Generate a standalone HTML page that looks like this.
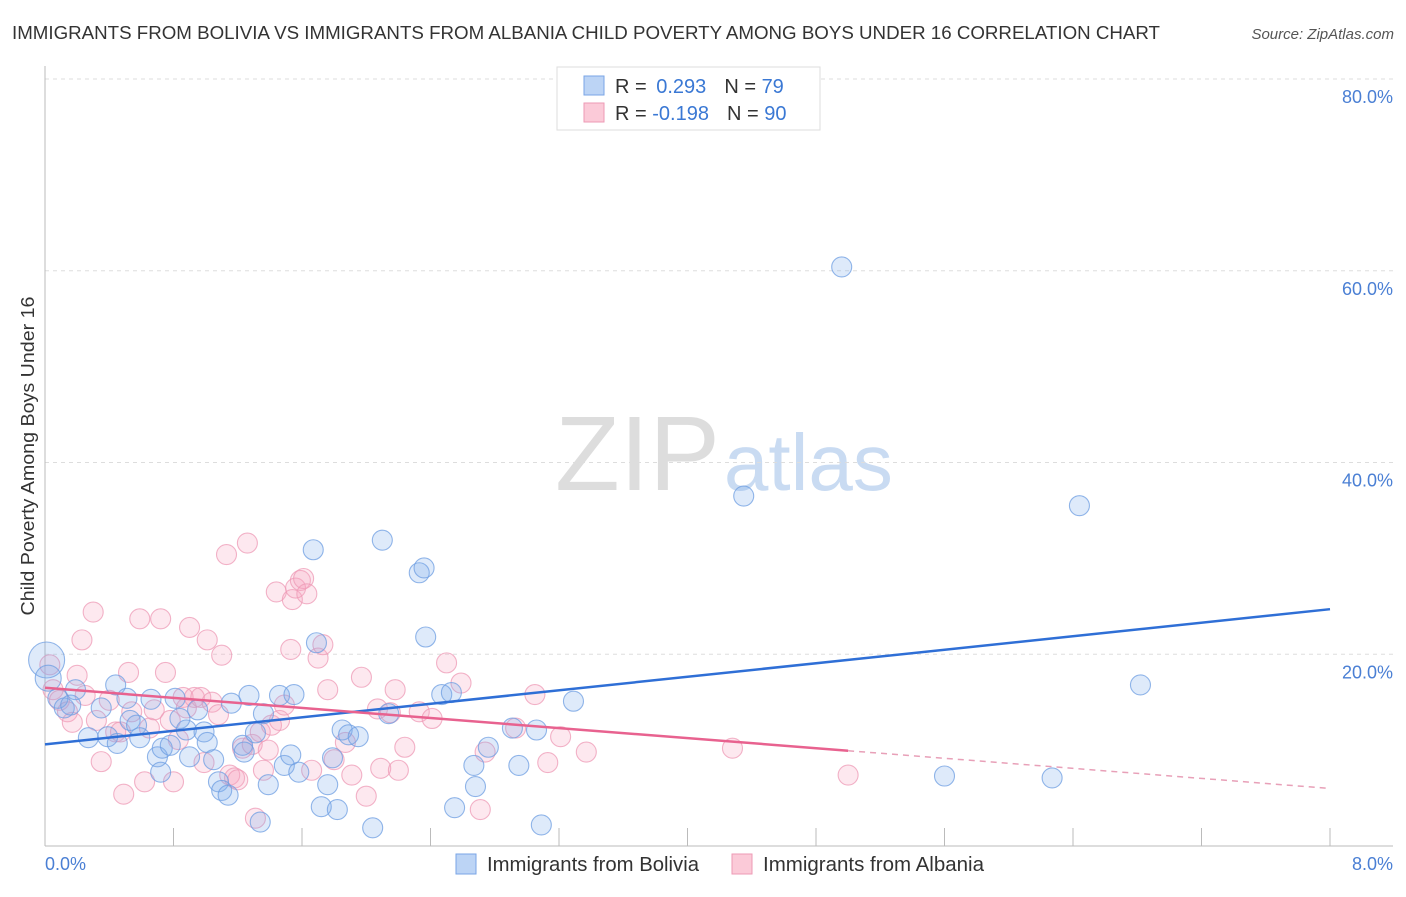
<!DOCTYPE html>
<html><head><meta charset="utf-8"><style>
body{margin:0;background:#fff;font-family:"Liberation Sans",sans-serif}
svg text{font-family:"Liberation Sans",sans-serif}
</style></head><body>
<svg id="c" width="1406" height="892" xmlns="http://www.w3.org/2000/svg">
<text x="12" y="39" font-size="18" fill="#333" textLength="1148" lengthAdjust="spacingAndGlyphs">IMMIGRANTS FROM BOLIVIA VS IMMIGRANTS FROM ALBANIA CHILD POVERTY AMONG BOYS UNDER 16 CORRELATION CHART</text>
<text x="1394" y="39" font-size="15" fill="#555" font-style="italic" text-anchor="end">Source: ZipAtlas.com</text>
<text x="555" y="490" font-size="106" fill="#ddd" font-family="Liberation Serif">ZIP<tspan fill="#c9dbf2" font-family="Liberation Sans" font-size="80" dx="4">atlas</tspan></text>
<text transform="translate(34,456) rotate(-90)" font-size="18" fill="#333" text-anchor="middle" textLength="319" lengthAdjust="spacingAndGlyphs">Child Poverty Among Boys Under 16</text>
<g id="grid"></g><g id="pts"></g><g id="lines"></g>
<rect x="557" y="67" width="263" height="63" fill="#fff" stroke="#ddd"/>
<rect x="584" y="76" width="20" height="19" fill="#bcd4f5" stroke="#7aa5e6"/>
<rect x="584" y="103" width="20" height="19" fill="#fbcad8" stroke="#ee9ab5"/>
<text x="615" y="93" font-size="20" fill="#333">R = <tspan fill="#3a78d4" dx="4">0.293</tspan><tspan dx="18" fill="#333">N = </tspan><tspan fill="#3a78d4">79</tspan></text>
<text x="615" y="120" font-size="20" fill="#333">R = <tspan fill="#3a78d4" dx="0">-0.198</tspan><tspan dx="18" fill="#333">N = </tspan><tspan fill="#3a78d4">90</tspan></text>
<rect x="456" y="854" width="20" height="20" fill="#bcd4f5" stroke="#7aa5e6"/>
<text x="487" y="871" font-size="20" fill="#333" textLength="212" lengthAdjust="spacingAndGlyphs">Immigrants from Bolivia</text>
<rect x="732" y="854" width="20" height="20" fill="#fbcad8" stroke="#ee9ab5"/>
<text x="763" y="871" font-size="20" fill="#333" textLength="221" lengthAdjust="spacingAndGlyphs">Immigrants from Albania</text>
</svg>
<script>
const yTicks=[20,40,60,80];
const yTickLabels=["20.0%","40.0%","60.0%","80.0%"];
const xTickCount=[0,0.8,1.6,2.4,3.2,4,4.8,5.6,6.4,7.2,8];
const blueX=[0.01,0.02,0.08,0.12,0.19,0.16,0.27,0.35,0.39,0.44,0.45,0.51,0.53,0.57,0.59,0.66,0.70,0.72,0.73,0.78,0.81,0.84,0.88,0.90,0.95,0.99,1.01,1.05,1.08,1.10,1.14,1.16,1.23,1.24,1.27,1.31,1.36,1.39,1.34,1.46,1.49,1.53,1.55,1.58,1.67,1.69,1.72,1.76,1.79,1.82,1.85,1.89,1.95,2.04,2.10,2.14,2.33,2.36,2.37,2.47,2.53,2.55,2.67,2.68,2.76,2.91,2.95,3.06,3.09,3.29,4.35,4.96,5.60,6.27,6.44,6.82];
const blueY=[19.4,17.5,15.4,14.4,16.3,14.7,11.3,14.4,11.4,16.8,10.7,15.4,13.1,12.6,11.3,15.3,9.3,7.7,10.2,10.5,15.4,13.3,12.1,9.3,14.2,11.9,10.8,9.0,6.7,5.8,5.3,14.9,10.5,9.8,15.7,11.8,13.8,6.4,2.5,15.7,8.4,9.5,15.8,7.7,30.9,21.2,4.1,6.4,9.2,3.8,12.1,11.6,11.4,1.9,31.9,13.8,28.5,29.0,21.8,15.8,16.0,4.0,8.4,6.2,10.3,12.3,8.4,12.1,2.2,15.1,36.5,60.4,7.3,7.1,35.5,16.8];
const pinkX=[0.03,0.05,0.09,0.14,0.17,0.20,0.23,0.25,0.30,0.32,0.35,0.40,0.44,0.47,0.49,0.52,0.54,0.59,0.62,0.65,0.68,0.72,0.75,0.78,0.80,0.83,0.86,0.88,0.90,0.93,0.97,0.99,1.01,1.04,1.08,1.10,1.13,1.15,1.18,1.20,1.23,1.26,1.29,1.31,1.34,1.36,1.39,1.41,1.44,1.46,1.49,1.53,1.54,1.56,1.59,1.61,1.63,1.66,1.70,1.73,1.76,1.80,1.87,1.91,1.97,2.00,2.07,2.09,2.15,2.18,2.20,2.24,2.33,2.41,2.50,2.59,2.71,2.74,2.93,3.05,3.13,3.21,3.37,4.28,5.00];
const pinkY=[18.9,16.3,15.2,14.0,12.9,17.8,21.5,15.7,24.4,13.1,8.8,15.2,11.9,11.9,5.4,18.1,14.0,23.7,6.7,12.3,14.2,23.7,18.1,13.1,6.7,11.1,15.5,14.4,22.8,15.5,15.5,8.7,21.5,15.0,13.7,19.9,30.4,7.4,7.1,6.9,10.2,31.6,10.6,2.9,11.9,7.9,10.0,12.6,26.5,13.1,14.7,20.5,25.7,26.9,27.7,27.9,26.3,7.9,19.6,21.0,16.3,9.0,10.8,7.4,17.6,5.2,14.3,8.1,13.9,16.3,7.9,10.3,14.0,13.3,19.1,17.0,3.8,9.8,12.3,15.8,8.7,11.4,9.8,10.2,7.4];
const blueTrend=[10.6,24.7];
const pinkTrend=[16.5,6.0];
const pinkSolidEnd=5.0;
const NS='http://www.w3.org/2000/svg';
const X=v=>45+v*160.625, Y=v=>846-v*9.5875;
function mk(t,a,p){const e=document.createElementNS(NS,t);for(const k in a)e.setAttribute(k,a[k]);p.appendChild(e);return e;}
const g=document.getElementById('grid');
yTicks.forEach((t,i)=>{
 const l=mk('line',{x1:45,x2:1393,y1:Y(t),y2:Y(t),stroke:'#ddd','stroke-dasharray':'4,4'},g);
 
 
 const tx=mk('text',{x:1393,y:Y(t)+24,'font-size':18,fill:'#4a7fd4','text-anchor':'end'},g);
 tx.textContent=yTickLabels[i];
 
 
});
const ax=mk('line',{x1:45,x2:45,y1:66,y2:846,stroke:'#bbb'},g);


const xa=mk('line',{x1:45,x2:1393,y1:846,y2:846,stroke:'#bbb'},g);


xTickCount.forEach(t=>{const l=mk('line',{x1:X(t),x2:X(t),y1:828,y2:846,stroke:'#bbb'},g);
 
 });
[[0,'0.0%','start',45],[8,'8.0%','end',1393]].forEach(d=>{const t=mk('text',{x:d[3],y:870,'font-size':18,fill:'#4a7fd4','text-anchor':d[2]},g);t.textContent=d[1];
 
 });
const p=document.getElementById('pts');
function pts(xs,ys,fill,stroke,name){xs.forEach((x,i)=>{const r=(i===0&&name==='bolivia-point')?18:(i===1&&name==='bolivia-point'?13:10);
 const c=mk('circle',{cx:X(x),cy:Y(ys[i]),r:r,fill:fill,stroke:stroke,'stroke-width':1.1,'stroke-opacity':0.75},p);
 
 });}
pts(pinkX,pinkY,'rgba(246,165,190,0.25)','#ee9ab5','albania-point');
pts(blueX,blueY,'rgba(125,170,235,0.25)','#6d9de2','bolivia-point');
const L=document.getElementById('lines');
const bl=mk('line',{x1:X(0),y1:Y(blueTrend[0]),x2:X(8),y2:Y(blueTrend[1]),stroke:'#2f6fd6','stroke-width':2.5},L);


const py=x=>pinkTrend[0]+(pinkTrend[1]-pinkTrend[0])*x/8;
const pl=mk('line',{x1:X(0),y1:Y(py(0)),x2:X(pinkSolidEnd),y2:Y(py(pinkSolidEnd)),stroke:'#e8628f','stroke-width':2.5},L);


const pd=mk('line',{x1:X(pinkSolidEnd),y1:Y(py(pinkSolidEnd)),x2:X(8),y2:Y(py(8)),stroke:'#e8a0b8','stroke-width':1.5,'stroke-dasharray':'6,5'},L);


</script>
</body></html>
